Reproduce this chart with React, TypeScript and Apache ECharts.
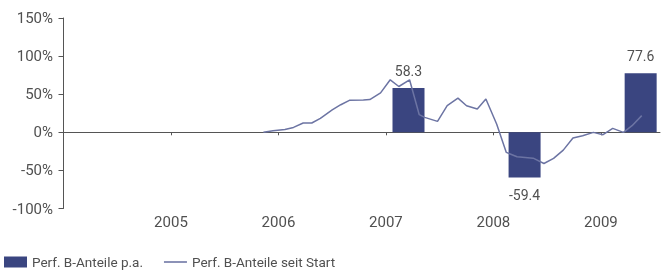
import React, { useEffect, useRef } from "react";
import * as echarts from "echarts";

const yearTicks = [2005, 2006, 2007, 2008, 2009];
const yTickValues = [-100, -50, 0, 50, 100, 150];

const barDates = [2007.21, 2008.29, 2009.37];
const barValues = [58.3, -59.4, 77.6];

const lineDates = [
  2005.86, 2005.95, 2006.06, 2006.14, 2006.23, 2006.31, 2006.39, 2006.5, 2006.58, 2006.66,
  2006.79, 2006.85, 2006.95, 2007.04, 2007.12, 2007.22, 2007.31, 2007.36, 2007.48, 2007.57,
  2007.67, 2007.75, 2007.85, 2007.93, 2008.03, 2008.12, 2008.22, 2008.37, 2008.47, 2008.56,
  2008.65, 2008.74, 2008.83, 2008.93, 2009.02, 2009.11, 2009.21, 2009.29, 2009.38,
];
const lineValues = [
  0, 2.1, 3.8, 6.4, 12.2, 12.2, 18.2, 29.3, 36.2, 41.9,
  42.4, 43, 51.8, 68.9, 60.1, 68.9, 23.1, 19.6, 14.3, 34.9,
  44.8, 34.9, 30.6, 43.6, 10.8, -26.4, -32.1, -33.9, -40.9, -34.3,
  -23.4, -7.6, -4.6, -0.1, -3.1, 5.2, -0.1, 8.7, 21.9,
];

const FONT = "Roboto";
const TEXT = "#505050";
const AXIS = "#555555";
const BAR = "#3a4580";
const LINE = "#6c74a3";

export default function App() {
  const ref = useRef<HTMLDivElement>(null);
  useEffect(() => {
    if (!ref.current) return;
    const chart = echarts.init(ref.current, undefined, { renderer: "svg" });
    chart.setOption({
      animation: false,
      textStyle: { fontFamily: FONT },
      grid: { left: 63.5, right: 4, top: 18, bottom: 61.5, outerBoundsMode: "none" },
      legend: {
        left: 4,
        top: 255,
        padding: 0,
        itemWidth: 23,
        itemHeight: 11,
        itemGap: 21,
        textStyle: { fontFamily: FONT, fontSize: 13.5, color: TEXT },
        data: [
          { name: "Perf. B-Anteile p.a.", icon: "rect" },
          { name: "Perf. B-Anteile seit Start", icon: "path://M0,0 H22 V1.5 H0 Z" },
        ],
      },
      xAxis: {
        type: "value",
        min: 2004,
        max: 2009.55,
        interval: 1,
        splitLine: { show: false },
        axisLine: { show: true, lineStyle: { color: AXIS, width: 1 } },
        axisTick: { show: true, length: 3, customValues: yearTicks, lineStyle: { color: AXIS } },
        axisLabel: {
          customValues: yearTicks,
          fontFamily: FONT,
          fontSize: 15,
          color: TEXT,
          margin: 6,
          formatter: (v: number) => String(v),
        },
      },
      yAxis: {
        type: "value",
        min: -100,
        max: 150,
        interval: 50,
        splitLine: { show: false },
        axisLine: { show: true, lineStyle: { color: AXIS, width: 1 } },
        axisTick: { show: true, length: 5, customValues: yTickValues, lineStyle: { color: AXIS } },
        axisLabel: {
          customValues: yTickValues,
          fontFamily: FONT,
          fontSize: 15,
          color: TEXT,
          margin: 10.5,
          formatter: (v: number) => v + "%",
        },
      },
      series: [
        {
          name: "Perf. B-Anteile p.a.",
          type: "bar",
          barWidth: 32,
          itemStyle: { color: BAR },
          z: 2,
          label: {
            show: true,
            fontFamily: FONT,
            fontSize: 14,
            color: TEXT,
            distance: 10,
            formatter: (p: any) => String(p.value[1]),
          },
          data: barDates.map((d, i) => ({
            value: [d, barValues[i]],
            label: { position: barValues[i] < 0 ? "bottom" : "top" },
          })),
        },
        {
          name: "Perf. B-Anteile seit Start",
          type: "line",
          symbol: "none",
          z: 3,
          lineStyle: { color: LINE, width: 1.5 },
          itemStyle: { color: LINE },
          data: lineDates.map((d, i) => [d, lineValues[i]]),
        },
      ],
    });
    return () => chart.dispose();
  }, []);
  return (
    <div
      ref={ref}
      style={{ position: "fixed", left: 0, top: 0, width: 664, height: 270 }}
    />
  );
}
